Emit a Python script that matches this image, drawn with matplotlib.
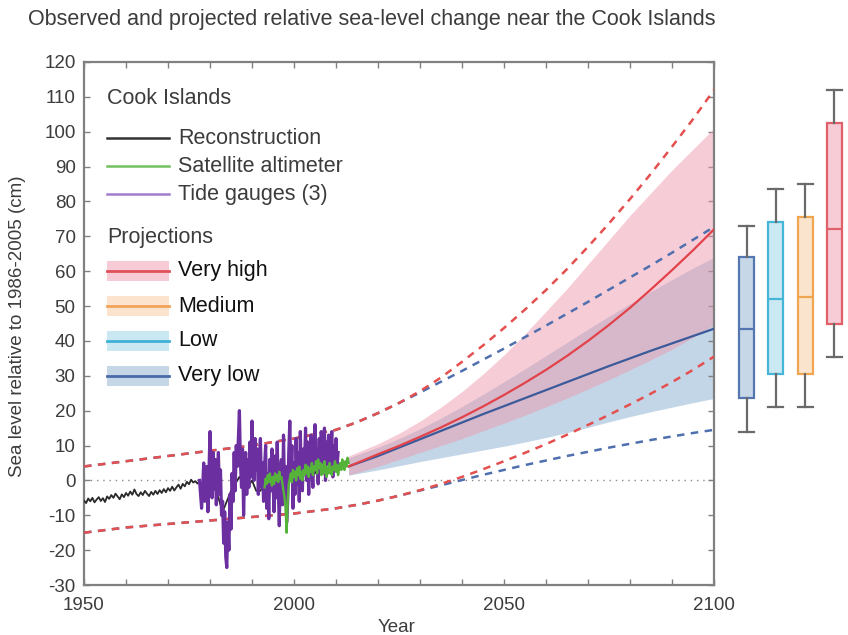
import numpy as np
import matplotlib
matplotlib.use("Agg")
import matplotlib.pyplot as plt
from matplotlib.lines import Line2D
from matplotlib.patches import Rectangle

plt.rcParams['font.family'] = ['Liberation Sans', 'DejaVu Sans']
plt.rcParams['axes.unicode_minus'] = False

# ---------------- data ----------------
# Reconstruction (half-year steps 1950.0-1977.5, then annual 1978-2010)
recon_early = [-5.8, -6.5, -5.2, -6.0, -5.0, -6.3, -5.5, -4.8, -5.9, -5.1,
               -6.2, -4.6, -5.3, -4.2, -5.0, -3.8, -4.6, -5.4, -4.0, -4.8,
               -3.6, -4.4, -3.2, -4.1, -2.6, -3.9, -4.5, -3.4, -4.2, -3.0,
               -3.8, -4.5, -3.3, -4.1, -3.0, -3.9, -2.8, -3.6, -2.5, -3.4,
               -2.2, -3.0, -1.8, -2.9, -2.0, -1.2, -2.4, -1.0, -1.7, -0.4,
               -1.1, 0.2, -0.6, -0.2, -0.9, -0.3]
recon_late = [-1, -3, -4, -2, -5, -9, -6, -3, -1, 1, -1, -2, 0, -3, -3, -1,
              0, -2, -3, 1, 0, 2, 1, 3, 2, 4, 3, 2, 4, 3, 5, 3, 4]

# Tide gauges (quarter-year steps 1977.5-2010.5)
tide = [0, -4,
        -8, -2, 5, -6,   -3, 4, -9, 2,    14, 3, -5, 8,    -2, 6, -7, 1,
        8, -4, 3, -10,   -6, -18, -9, -22, -25, -12, -20, -4, -14, 2, -6, 8,
        -3, 10, 4, 12,   20, 5, -2, 9,    -10, 3, 8, -4,   6, -2, 11, 1,
        17, 7, 0, 12,    3, 9, -4, 6,     12, -2, 5, -6,   4, 10, -8, 2,
        -11, 6, -3, 9,   0, -9, 7, -5,    11, -2, -13, 3,  6, -7, 13, -3,
        4, -12, -6, 8,   17, 2, 10, -8,   5, -4, 12, -1,   8, -6, 14, 2,
        -3, 9, 4, 15,    0, 11, -4, 7,    13, 3, -2, 10,   16, 5, 9, -1,
        12, 4, 14, 2,    8, 15, 0, 11,    5, 13, 3, 9,     14, 1, 10, 6,
        12, 4, 8]

# Satellite altimeter (quarter-year steps 1993.0-2013.0)
satellite = [-2, 0.5, -1, 1.5,  -0.5, 2, 0, -1.5,  1, -1, 2, 0,  1.5, -0.5, 2.5, 0.5,
             1, -1, -3, -5,     -8, -15, -6, -1,   0.5, 2, -0.5, 3,  1, 2.5, 0, 3.5,
             1.5, 4, 0.5, 2.5,  0, 3, 1.5, 4.5,    2, 4, 1, 3.5,  2.5, 5, 1.5, 4,
             3, 5.5, 2, 6,      3.5, 5, 1.5, 4.5,  2, 5.5, 3, 1,  4, 2, 5, 2.5,
             1.5, 4, 3, 5.5,    2.5, 4.5, 1.5, 3.5, 5, 3, 6, 4,  3, 5.5, 4, 6.5,
             5]

# Projections (median and likely range), very high and very low
proj_years = [2013, 2020, 2025, 2030, 2035, 2040, 2045, 2050, 2055, 2060,
              2065, 2070, 2075, 2080, 2085, 2090, 2095, 2100]
vh_median = [4, 7.5, 9.9, 12.5, 15.2, 18.1, 21.2, 24.5, 28.0, 31.7, 35.7, 40.0,
             44.6, 49.5, 54.8, 60.3, 66.0, 72]
vh_low = [1.5, 4, 6, 8, 10, 12, 14.2, 16.4, 18.7, 21.1, 23.6, 26.2, 28.9, 31.7,
          34.6, 37.6, 41, 44.6]
vh_high = [7, 10.5, 13.5, 17, 21, 25.5, 30.5, 36, 42, 48.5, 55, 62, 69, 76, 82.5,
           89, 95, 101]
vl_median = [4, 7.0, 9.4, 11.8, 14.2, 16.6, 19.0, 21.3, 23.6, 25.9, 28.2, 30.5,
             32.8, 35.0, 37.2, 39.3, 41.4, 43.5]
vl_low = [1.5, 3, 4.2, 5.4, 6.5, 7.6, 8.7, 9.8, 11.0, 12.3, 13.7, 15.2, 16.8,
          18.3, 19.7, 21.0, 22.3, 23.5]
vl_high = [6.5, 9.5, 12, 14.8, 17.9, 21.2, 24.7, 28.3, 32.0, 35.8, 39.6, 43.4,
           47.1, 50.7, 54.2, 57.6, 60.9, 64]

# Envelope (dashed) curves
env_years = [1950, 1960, 1970, 1980, 1990, 2000, 2010, 2015, 2020, 2025, 2030, 2035,
             2040, 2045, 2050, 2055, 2060, 2065, 2070, 2075, 2080, 2085, 2090, 2095, 2100]
vh_env_upper = [4, 5.5, 7, 8.5, 10, 12, 14.5, 16.7, 19.3, 22.2, 25.6, 29.5,
                34, 38.7, 43.7, 49, 54.6, 60.6, 67, 73.7, 80.7, 88, 95.7, 103.6, 112]
vl_env_upper = [4, 5.5, 7, 8.5, 10, 12, 14.5, 16.7, 19.3, 22.2, 25.2, 28.3,
                31.4, 34.6, 37.8, 41.1, 44.4, 47.8, 51.2, 54.7, 58.2, 61.7, 65.3, 69.0, 72.7]
vh_env_lower = [-15, -13.5, -12.5, -11.5, -10.5, -9.5, -8, -7.0, -5.8, -4.4, -2.8, -1.0,
                1.0, 3.2, 5.5, 7.9, 10.4, 13.1, 15.9, 18.8, 21.8, 24.9, 28.2, 31.7, 35.5]
vl_env_lower = [-15, -13.5, -12.5, -11.5, -10.5, -9.5, -8, -7.0, -5.8, -4.4, -2.9, -1.4,
                0.1, 1.6, 3.0, 4.4, 5.7, 7.0, 8.2, 9.4, 10.5, 11.6, 12.6, 13.6, 14.5]

# Box plots for 2100
scenarios = ['Very low', 'Low', 'Medium', 'Very high']
box_whislo = [14, 21, 21, 35.5]
box_q1 = [23.5, 30.5, 30.5, 45]
box_med = [43.5, 52, 52.5, 72]
box_q3 = [64, 74, 75.5, 102.5]
box_whishi = [73, 83.5, 85, 112]

# ---------------- styles ----------------
C_TXT = '#3c3c3c'
C_SPINE = '#808080'
C_RED = '#e2424a'
C_BLUE_LINE = '#3b5a9a'
C_RED_DASH = '#e4504f'
C_BLUE_DASH = '#4f6fae'
box_face = {'Very low': '#c6d7e8', 'Low': '#cbe9f2', 'Medium': '#fbe4cd', 'Very high': '#f7ccd6'}
box_edge = {'Very low': '#5577b0', 'Low': '#45b5d8', 'Medium': '#f0a550', 'Very high': '#e0606a'}

W, H = 848, 635
fig = plt.figure(figsize=(W / 100, H / 100), dpi=100)


def P(x, y):
    return (x / W, 1 - y / H)


ax = fig.add_axes([84 / W, 50 / H, 630 / W, 523 / H])
ax.set_xlim(1950, 2100)
ax.set_ylim(-30, 120)

# bands
ax.fill_between(proj_years, vl_low, vl_high, color='#c3d6e7', lw=0, zorder=1)
ax.fill_between(proj_years, vh_low, vh_high, color='#ee98ad', alpha=0.48, lw=0, zorder=2)

# zero line
ax.axhline(0, color='#8a8a8a', lw=1.0, ls=(0, (1, 3.5)), zorder=1)

# dashed envelopes
ax.plot(env_years, vl_env_upper, color=C_BLUE_DASH, lw=1.8, dashes=(3, 2.6), zorder=3)
ax.plot(env_years, vl_env_lower, color=C_BLUE_DASH, lw=1.8, dashes=(3, 2.6), zorder=3)
ax.plot(env_years, vh_env_upper, color=C_RED_DASH, lw=1.8, dashes=(3, 2.6), zorder=4)
ax.plot(env_years, vh_env_lower, color=C_RED_DASH, lw=1.8, dashes=(3, 2.6), zorder=4)

# medians
ax.plot(proj_years, vl_median, color=C_BLUE_LINE, lw=1.6, zorder=5)
ax.plot(proj_years, vh_median, color=C_RED, lw=1.6, zorder=5)

# observations
recon_x = np.concatenate([1950 + 0.5 * np.arange(len(recon_early)),
                          1978 + np.arange(len(recon_late))])
recon_y = recon_early + recon_late
ax.plot(recon_x, recon_y, color='#2a2a2a', lw=1.3, zorder=6)
tide_x = 1977.5 + 0.25 * np.arange(len(tide))
ax.plot(tide_x, tide, color='#6c2fa0', lw=2.3, zorder=7)
sat_x = 1993.0 + 0.25 * np.arange(len(satellite))
ax.plot(sat_x, satellite, color='#55b33a', lw=1.7, zorder=8)

# axes styling
for s in ax.spines.values():
    s.set_color(C_SPINE)
    s.set_linewidth(1.6)
ax.set_xticks([1950, 2000, 2050, 2100])
ax.set_xticks(np.arange(1950, 2101, 10), minor=True)
ax.set_yticks(np.arange(-30, 121, 10))
ax.tick_params(which='both', direction='in', length=4, width=1, color=C_SPINE,
               top=True, right=True, labelsize=13.5, labelcolor=C_TXT)
ax.tick_params(axis='y', pad=6)
ax.tick_params(axis='x', pad=9)

# box plots
ax2 = fig.add_axes([730 / W, 50 / H, 118 / W, 523 / H])
ax2.set_ylim(-30, 120)
ax2.set_xlim(0.428, 4.469)
ax2.axis('off')
stats = []
for i, name in enumerate(scenarios):
    stats.append(dict(label=name, whislo=box_whislo[i], q1=box_q1[i], med=box_med[i],
                      q3=box_q3[i], whishi=box_whishi[i]))
bp = ax2.bxp(stats, positions=[1, 2, 3, 4], widths=0.52, capwidths=0.52,
             patch_artist=True, showfliers=False,
             whiskerprops=dict(color='#6a6a6a', lw=1.6),
             capprops=dict(color='#6a6a6a', lw=1.6))
for i, name in enumerate(scenarios):
    bp['boxes'][i].set_facecolor(box_face[name])
    bp['boxes'][i].set_edgecolor(box_edge[name])
    bp['boxes'][i].set_linewidth(1.6)
    bp['medians'][i].set_color(box_edge[name])
    bp['medians'][i].set_linewidth(1.6)

# texts
fig.text(*P(28, 20), 'Observed and projected relative sea-level change near the Cook Islands',
         fontsize=15.5, color=C_TXT, ha='left', va='center')
fig.text(*P(18, 326), 'Sea level relative to 1986-2005 (cm)', rotation=90,
         fontsize=13.5, color=C_TXT, ha='center', va='center')
fig.text(*P(397, 627), 'Year', fontsize=13.5, color=C_TXT, ha='center', va='center')

# legend
LF = 15.5
fig.text(*P(107, 99), 'Cook Islands', fontsize=LF, color=C_TXT, ha='left', va='center')
obs_leg = [('Reconstruction', '#333333', 138), ('Satellite altimeter', '#74c060', 166),
           ('Tide gauges (3)', '#a27ccc', 194)]
for lab, col, yy in obs_leg:
    (x0, y0), (x1, _) = P(107, yy), P(169, yy)
    fig.add_artist(Line2D([x0, x1], [y0, y0], color=col, lw=1.8, transform=fig.transFigure))
    fig.text(*P(178, yy), lab, fontsize=LF, color=C_TXT, ha='left', va='center')
fig.text(*P(107, 237), 'Projections', fontsize=LF, color=C_TXT, ha='left', va='center')
proj_leg = [('Very high', '#f6cbd5', '#e0505a', 271), ('Medium', '#fbe3cd', '#f0a55a', 306),
            ('Low', '#c9e8f1', '#3fb1d6', 341), ('Very low', '#c5d6e6', '#4a6aa8', 376)]
for lab, fc, lc, yy in proj_leg:
    x0, y0 = P(107, yy + 10)
    fig.add_artist(Rectangle((x0, y0), 62 / W, 20 / H, facecolor=fc, edgecolor='none',
                             transform=fig.transFigure))
    (x0, ym), (x1, _) = P(107, yy), P(169, yy)
    fig.add_artist(Line2D([x0, x1], [ym, ym], color=lc, lw=2, transform=fig.transFigure))
    fig.text(*P(178, yy), lab, fontsize=LF, color='#111111', ha='left', va='center')

fig.savefig('out.png', dpi=100)
